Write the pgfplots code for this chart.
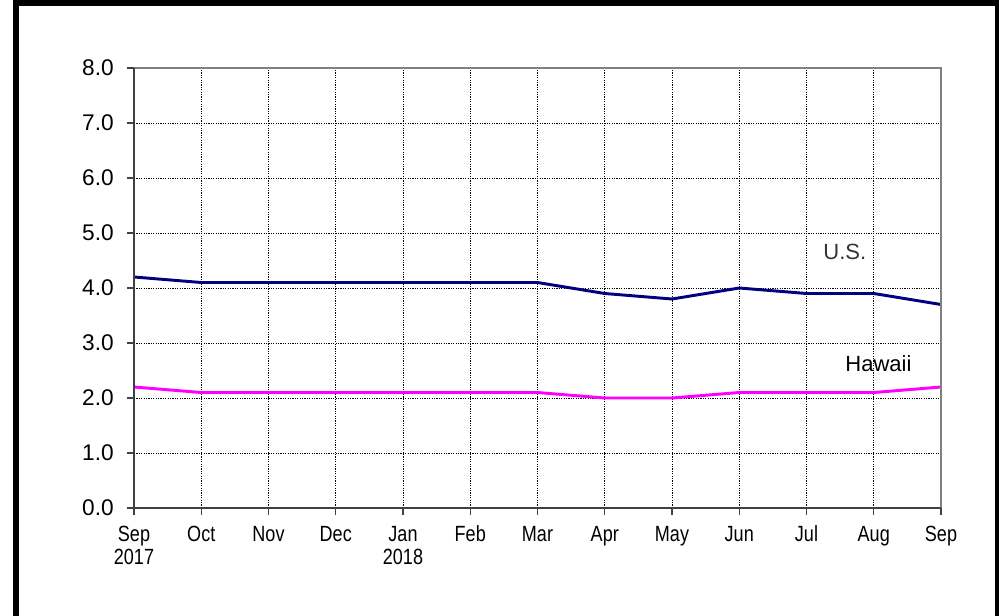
\documentclass[border=0pt]{standalone}
\usepackage{pgfplots}
\pgfplotsset{compat=1.18}
\usepackage{fontspec}
\setmainfont{Liberation Sans}
\newfontfamily\narrowfont[FakeStretch=0.82]{Liberation Sans}
\definecolor{usnavy}{HTML}{000080}
\definecolor{hawaiimag}{HTML}{FF00FF}
\newcommand\st{\rule{0pt}{13pt}}
\begin{document}
\begin{tikzpicture}
\useasboundingbox (0,0) rectangle (749.25pt,461.25pt);
\clip (0,0) rectangle (749.25pt,461.25pt);
\fill[white] (0,0) rectangle (749.25pt,461.25pt);
\draw[black, line width=4.5pt] (12pt,-20pt) rectangle (748.5pt,459pt);
\begin{axis}[
  at={(100.5pt,80.25pt)}, anchor=south west,
  scale only axis, width=605.25pt, height=330pt,
  xmin=0, xmax=12, ymin=0, ymax=8,
  xtick={0,...,12},
  xticklabels={{\st Sep\\2017},\st Oct,\st Nov,\st Dec,{\st Jan\\2018},\st Feb,\st Mar,\st Apr,\st May,\st Jun,\st Jul,\st Aug,\st Sep},
  ytick={0,1,...,8},
  /pgf/number format/fixed, /pgf/number format/fixed zerofill, /pgf/number format/precision=1,
  /pgf/number format/assume math mode=true,
  y tick label style={font=\fontsize{17}{18}\selectfont, inner sep=1pt, xshift=-9pt},
  x tick label style={font=\narrowfont\fontsize{16.5}{17}\selectfont, align=center, inner sep=0pt, yshift=-7pt},
  grid=major,
  major grid style={black, line width=0.6pt, dash pattern=on 0.9pt off 0.9pt},
  axis line style={draw=none},
  tick align=outside,
  xtick pos=bottom, ytick pos=left,
  major tick length=5pt,
  tick style={black!75, line width=0.9pt},
  clip=false,
]
\addplot[usnavy, line width=2.2pt] coordinates {
 (0,4.2) (1,4.1) (2,4.1) (3,4.1) (4,4.1) (5,4.1) (6,4.1) (7,3.9) (8,3.8) (9,4.0) (10,3.9) (11,3.9) (12,3.7)};
\addplot[hawaiimag, line width=2.2pt] coordinates {
 (0,2.2) (1,2.1) (2,2.1) (3,2.1) (4,2.1) (5,2.1) (6,2.1) (7,2.0) (8,2.0) (9,2.1) (10,2.1) (11,2.1) (12,2.2)};
\draw[black!50, line width=2.2pt] (rel axis cs:0,1) -- (rel axis cs:1,1) -- (rel axis cs:1,0);
\draw[black!75, line width=1.1pt] (rel axis cs:0,1) -- (rel axis cs:0,0) -- (rel axis cs:1,0);
\node[font=\fontsize{16.5}{18}\selectfont, text=black!80] at (axis cs:10.57,4.66) {U.S.};
\node[font=\fontsize{16.5}{18}\selectfont] at (axis cs:11.07,2.62) {Hawaii};
\end{axis}
\end{tikzpicture}
\end{document}
